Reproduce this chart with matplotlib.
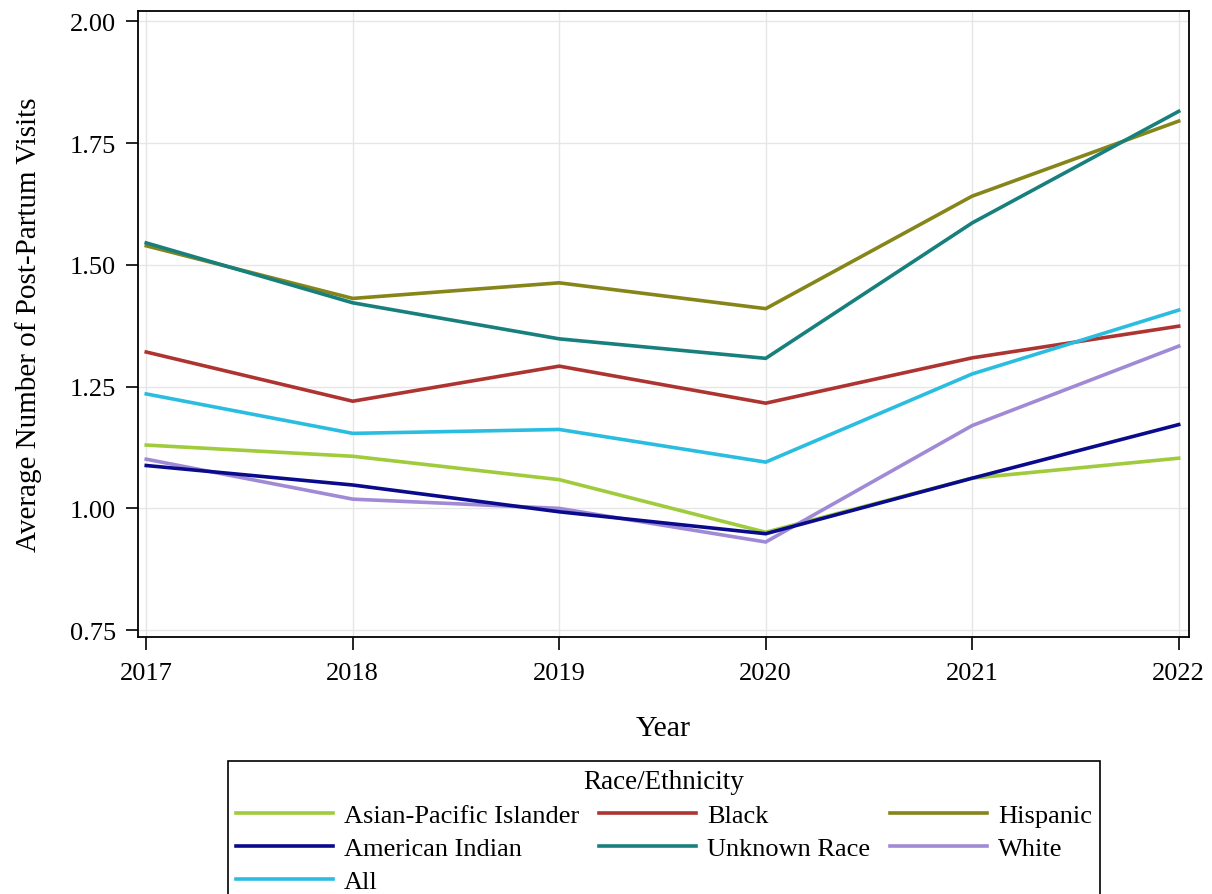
import matplotlib
matplotlib.use("Agg")
import matplotlib.pyplot as plt

years = [2017, 2018, 2019, 2020, 2021, 2022]
asian = [1.130, 1.107, 1.059, 0.951, 1.062, 1.103]
american_indian = [1.088, 1.048, 0.993, 0.948, 1.062, 1.172]
all_groups = [1.235, 1.154, 1.162, 1.095, 1.276, 1.407]
black = [1.321, 1.220, 1.292, 1.216, 1.309, 1.374]
unknown = [1.545, 1.422, 1.348, 1.308, 1.586, 1.815]
hispanic = [1.539, 1.431, 1.463, 1.410, 1.641, 1.795]
white = [1.101, 1.019, 1.000, 0.931, 1.170, 1.333]

legend_order = ["Asian-Pacific Islander", "American Indian", "All", "Black",
                "Unknown Race", "Hispanic", "White"]
y_ticks = [0.75, 1.00, 1.25, 1.50, 1.75, 2.00]

colors = {
    "Asian-Pacific Islander": "#9fcb3c",
    "American Indian": "#0a0a8c",
    "All": "#2bbde0",
    "Black": "#ad3431",
    "Unknown Race": "#17807d",
    "Hispanic": "#85851a",
    "White": "#a08ad6",
}
values = {
    "Asian-Pacific Islander": asian,
    "American Indian": american_indian,
    "All": all_groups,
    "Black": black,
    "Unknown Race": unknown,
    "Hispanic": hispanic,
    "White": white,
}

plt.rcParams['font.family'] = ['Liberation Serif', 'DejaVu Serif']

W, H = 1212, 895
fig = plt.figure(figsize=(W / 100, H / 100), dpi=100)
ax = fig.add_axes([138 / W, 1 - 638 / H, (1189 - 138) / W, (638 - 12) / H])

draw_order = ["Hispanic", "Unknown Race", "Black", "All", "Asian-Pacific Islander",
              "White", "American Indian"]
lines = {}
for name in draw_order:
    ln, = ax.plot(years, values[name], color=colors[name], lw=2.6,
                  solid_joinstyle='miter', label=name)
    lines[name] = ln

ax.set_xlim(2016.96, 2022.05)
ax.set_ylim(0.736, 2.021)
ax.set_xticks(years)
ax.set_xticklabels([str(y) for y in years])
ax.set_yticks(y_ticks)
ax.set_yticklabels([f"{v:.2f}" for v in y_ticks])
ax.grid(True, color="#e6e6e6", lw=1.0)
ax.set_axisbelow(True)
for s in ax.spines.values():
    s.set_linewidth(1.3)
    s.set_color("black")
ax.tick_params(axis='both', direction='out', length=9, width=1.2, labelsize=19,
               colors='black')
ax.tick_params(axis='y', pad=7)
ax.tick_params(axis='x', pad=9)

ax.set_xlabel("Year", fontsize=21.5)
ax.xaxis.set_label_coords(0.5, -0.124)
ax.set_ylabel("Average Number of Post-Partum Visits", fontsize=21)
ax.yaxis.set_label_coords(-0.091, 0.5)

leg = fig.legend([lines[n] for n in legend_order], legend_order, ncol=3,
                 loc='upper center', bbox_to_anchor=(664 / W, 1 - 762 / H),
                 title="Race/Ethnicity", title_fontsize=19.5, fontsize=19,
                 frameon=True, fancybox=False, framealpha=1, borderpad=0.3,
                 borderaxespad=0, handlelength=3.67, handletextpad=0.42,
                 columnspacing=0.76, labelspacing=0.36)
leg.get_frame().set_edgecolor('black')
leg.get_frame().set_linewidth(1.2)

fig.savefig("out.png", dpi=100)
